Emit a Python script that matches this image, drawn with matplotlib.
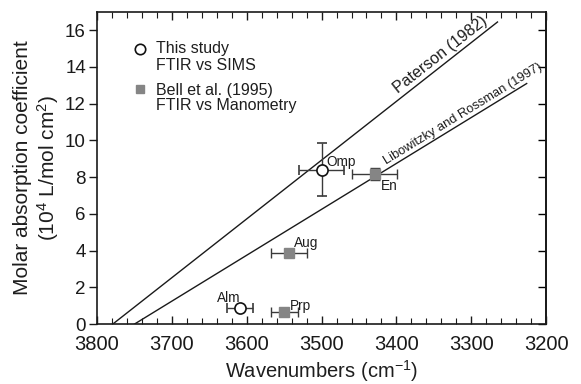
import numpy as np
import matplotlib
matplotlib.use("Agg")
import matplotlib.pyplot as plt
from matplotlib.ticker import MultipleLocator

plt.rcParams['font.family'] = ['Liberation Sans', 'DejaVu Sans']
plt.rcParams['mathtext.fontset'] = 'custom'
plt.rcParams['mathtext.rm'] = 'Liberation Sans'
plt.rcParams['mathtext.it'] = 'Liberation Sans:italic'

# This study (FTIR vs SIMS)
study_names = ["Omp", "Alm"]
study_wn = [3500, 3609]
study_eps = [8.4, 0.86]
study_xerr = [30, 18]
study_yerr = [1.45, 0.0]

# Bell et al. (1995) (FTIR vs Manometry)
bell_names = ["En", "Aug", "Prp"]
bell_wn = [3429, 3543, 3550]
bell_eps = [8.15, 3.86, 0.64]
bell_xerr = [30, 24, 18]
bell_yerr = [0.33, 0.0, 0.0]

# Calibration lines (endpoints: wavenumber, epsilon)
paterson_wn = [3779, 3265]
paterson_eps = [0.0, 16.45]
libo_wn = [3750, 3226]
libo_eps = [0.0, 13.1]

TXT = '#1e1e1e'

fig = plt.figure(figsize=(5.81, 3.84), dpi=100)
ax = fig.add_axes([0.167, 0.156, 0.773, 0.813])

ax.set_xlim(3800, 3200)
ax.set_ylim(0, 17)

ax.plot(paterson_wn, paterson_eps, color='#1a1a1a', lw=1.0, zorder=2)
ax.plot(libo_wn, libo_eps, color='#1a1a1a', lw=1.0, zorder=2)

ecol = '#3a3a3a'
ax.errorbar(study_wn, study_eps, xerr=study_xerr, yerr=study_yerr, fmt='o',
            ms=8, mfc='white', mec='#111111', mew=1.2, ecolor=ecol,
            elinewidth=1.0, capsize=3.5, capthick=1.0, zorder=4)
ax.errorbar(bell_wn, bell_eps, xerr=bell_xerr, yerr=bell_yerr, fmt='s',
            ms=6.5, mfc='#858585', mec='#858585', ecolor=ecol,
            elinewidth=1.0, capsize=3.5, capthick=1.0, zorder=4)

# point labels: (dx, dy in points, ha, va)
lab_fs = 9.8
offsets = {"Omp": (3.6, 3.1, 'left', 'baseline'),
           "Alm": (0.0, 4.8, 'right', 'baseline'),
           "En": (4.3, -3.6, 'left', 'top'),
           "Aug": (3.6, 4.5, 'left', 'baseline'),
           "Prp": (3.8, 1.8, 'left', 'baseline')}
for n, x, y in zip(study_names + bell_names, study_wn + bell_wn, study_eps + bell_eps):
    dx, dy, ha, va = offsets[n]
    ax.annotate(n, (x, y), xytext=(dx, dy), textcoords='offset points',
                ha=ha, va=va, fontsize=lab_fs, color=TXT)

# line labels rotated along lines
fig.canvas.draw()
def angle(wn, eps):
    p = ax.transData.transform(np.column_stack([wn, eps]))
    return np.degrees(np.arctan2(p[1, 1] - p[0, 1], p[1, 0] - p[0, 0]))

def line_label(text, wn, eps, at, fs, off=3.5):
    a = angle(wn, eps)
    y = np.interp(at, wn[::-1], eps[::-1])
    r = np.radians(a)
    ax.annotate(text, (at, y), xytext=(-off * np.sin(r), off * np.cos(r)),
                textcoords='offset points', rotation=a, rotation_mode='anchor',
                ha='center', va='baseline', fontsize=fs, color=TXT)

line_label("Paterson (1982)", paterson_wn, paterson_eps, 3333, 11.5)
line_label("Libowitzky and Rossman (1997)", libo_wn, libo_eps, 3306, 9.3)

# legend (manual)
leg_fs = 11.5
ax.plot([3742], [14.97], 'o', ms=7.5, mfc='white', mec='#111111', mew=1.2)
ax.text(3721, 14.74, "This study", fontsize=leg_fs, va='baseline', ha='left', color=TXT)
ax.text(3721, 13.83, "FTIR vs SIMS", fontsize=leg_fs, va='baseline', ha='left', color=TXT)
ax.plot([3742], [12.79], 's', ms=6, mfc='#858585', mec='#858585')
ax.text(3721, 12.46, "Bell et al. (1995)", fontsize=leg_fs, va='baseline', ha='left', color=TXT)
ax.text(3721, 11.64, "FTIR vs Manometry", fontsize=leg_fs, va='baseline', ha='left', color=TXT)

ax.xaxis.set_major_locator(MultipleLocator(100))
ax.xaxis.set_minor_locator(MultipleLocator(20))
ax.yaxis.set_major_locator(MultipleLocator(2))
ax.tick_params(axis='x', which='both', direction='in', top=True, bottom=True, colors='#1a1a1a')
ax.tick_params(axis='x', which='major', length=6, width=1.0, labelsize=14.5, pad=8)
ax.tick_params(axis='x', which='minor', length=4, width=0.8)
ax.tick_params(axis='y', which='major', direction='out', left=True, length=6, width=1.0,
               labelsize=13.5, pad=2, colors='#1a1a1a')
ax2 = ax.secondary_yaxis('right')
ax2.yaxis.set_major_locator(MultipleLocator(2))
ax2.tick_params(axis='y', direction='in', length=6, width=1.0, labelright=False)

for s in ax.spines.values():
    s.set_linewidth(1.2)
    s.set_color('#1a1a1a')
ax2.spines['right'].set_linewidth(1.2)

ax.set_xlabel("Wavenumbers (cm$^{-1}$)", fontsize=14.5, labelpad=2.5, color=TXT)
ax.set_ylabel("Molar absorption coefficient\n(10$^4$ L/mol cm$^2$)", fontsize=15,
              labelpad=3, linespacing=1.15, color=TXT)

fig.savefig("out.png", dpi=100)
